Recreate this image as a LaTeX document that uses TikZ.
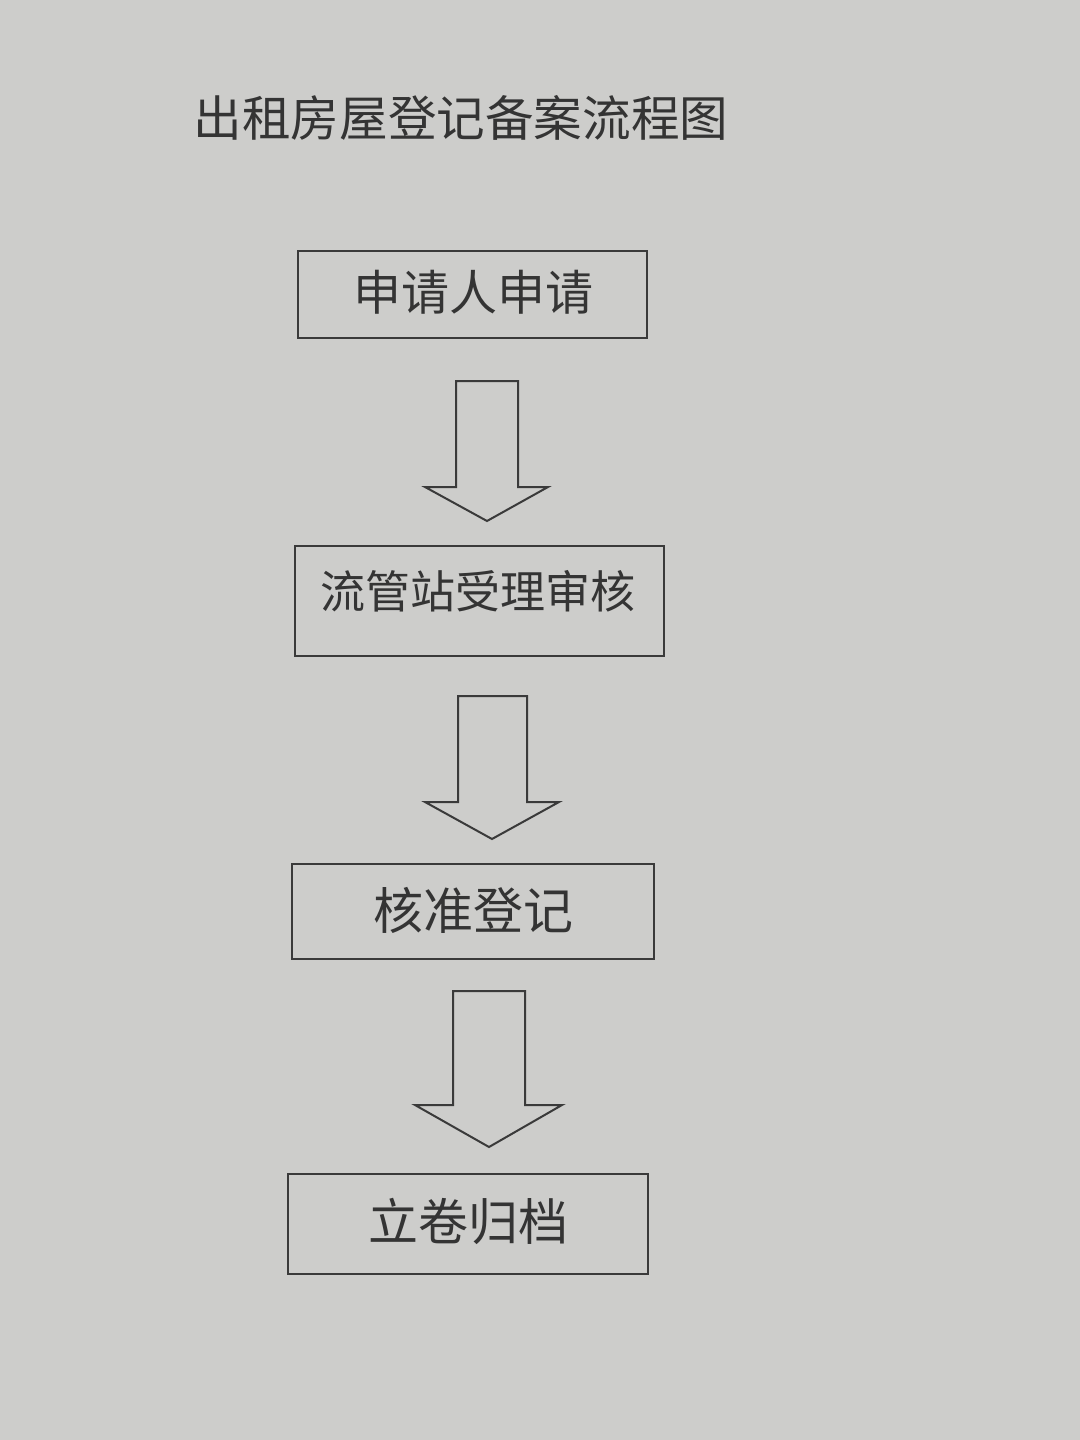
\documentclass[tikz,border=0pt]{standalone}
\usepackage{fontspec}
\newfontfamily\cjk{Noto Sans CJK SC}
\definecolor{paper}{HTML}{CDCDCB}
\definecolor{ink}{HTML}{3A3A3A}
\tikzset{
  box/.style={draw=ink, line width=1pt, inner sep=0pt},
  lbl/.style={text=ink!90!black, font=\cjk\fontsize{24pt}{28pt}\selectfont, inner sep=0pt},
  blockarrow/.style={draw=ink, line width=1pt, line join=miter},
}
\begin{document}
\begin{tikzpicture}[x=0.5pt,y=-0.5pt]
\fill[paper] (0,0) rectangle (1080,1440);
\useasboundingbox (0,0) rectangle (1080,1440);
\node[lbl, font=\cjk\fontsize{24.3pt}{29pt}\selectfont] (title) at (461,118) {出租房屋登记备案流程图};
% boxes
\node[box, minimum width=174.5pt, minimum height=43.5pt] (b1) at (472.5,294.5) {};
\node[lbl] (t1) at (473,292) {申请人申请};
\node[box, minimum width=184.5pt, minimum height=55pt] (b2) at (479.5,601) {};
\node[lbl, font=\cjk\fontsize{22.5pt}{27pt}\selectfont] (t2) at (478,591) {流管站受理审核};
\node[box, minimum width=181pt, minimum height=47.5pt] (b3) at (473,911.5) {};
\node[lbl, font=\cjk\fontsize{25pt}{30pt}\selectfont] (t3) at (473,910) {核准登记};
\node[box, minimum width=180pt, minimum height=50pt] (b4) at (468,1224) {};
\node[lbl, font=\cjk\fontsize{25pt}{30pt}\selectfont] (t4) at (468,1221) {立卷归档};
% block arrows
\draw[blockarrow] (456,381) -- (518,381) -- (518,487) -- (548,487) -- (487,521) -- (425,487) -- (456,487) -- cycle;
\draw[blockarrow] (458,696) -- (527,696) -- (527,802) -- (559,802) -- (492,839) -- (425,802) -- (458,802) -- cycle;
\draw[blockarrow] (453,991) -- (525,991) -- (525,1105) -- (562,1105) -- (489,1147) -- (415,1105) -- (453,1105) -- cycle;
\end{tikzpicture}
\end{document}
